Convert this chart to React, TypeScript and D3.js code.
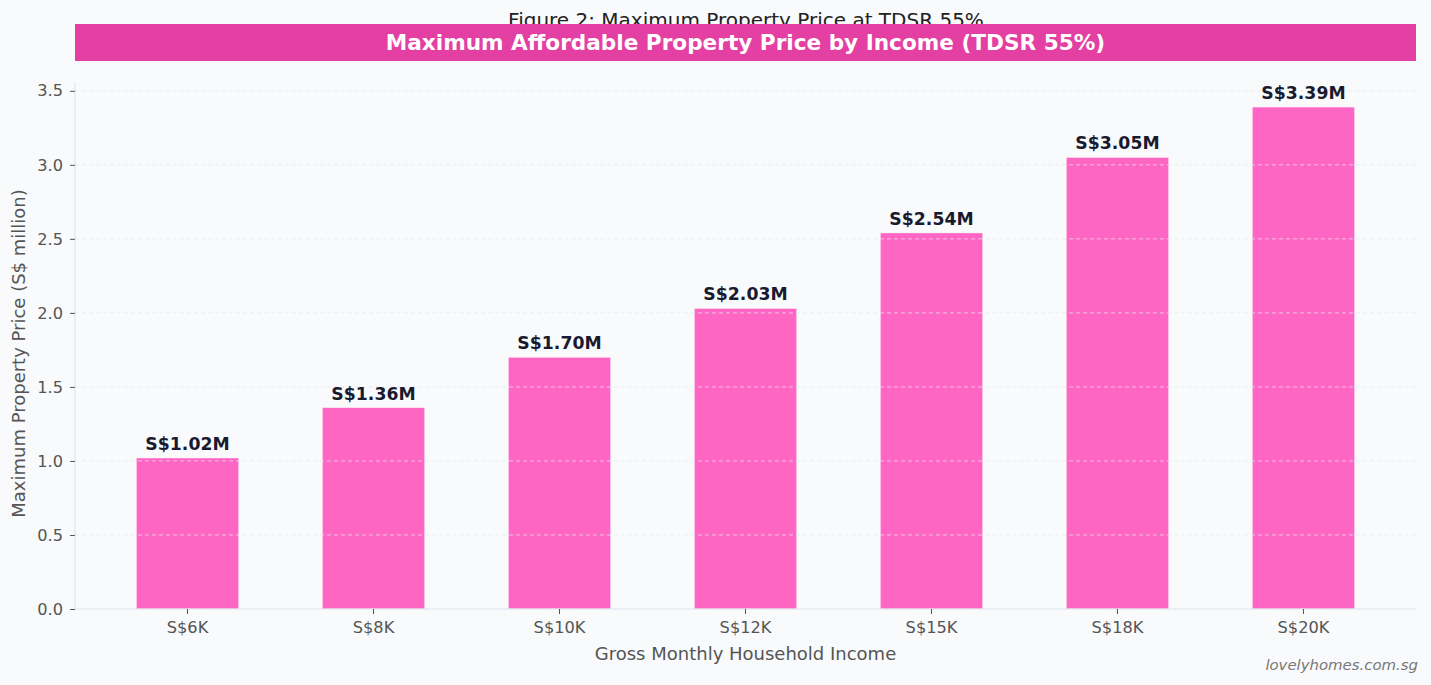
import { useEffect, useRef } from "react";
import * as d3 from "d3";

const incomes = ["S$6K", "S$8K", "S$10K", "S$12K", "S$15K", "S$18K", "S$20K"];
const maxPrice = [1.02, 1.36, 1.7, 2.03, 2.54, 3.05, 3.39];
const yTicks = [0, 0.5, 1.0, 1.5, 2.0, 2.5, 3.0, 3.5];

const WIDTH = 1431;
const HEIGHT = 685;
const FONT = "'DejaVu Sans', Verdana, sans-serif";
const TEXT_GREY = "#555555";

export default function App() {
  const svgRef = useRef<SVGSVGElement>(null);

  useEffect(() => {
    if (!svgRef.current) return;
    const svg = d3.select(svgRef.current);
    svg.selectAll("*").remove();

    const margin = { top: 82, right: 15, bottom: 76, left: 75 };
    const plotW = WIDTH - margin.left - margin.right;
    const plotH = HEIGHT - margin.top - margin.bottom;

    svg.append("rect").attr("width", WIDTH).attr("height", HEIGHT).attr("fill", "#f8fafc");

    // suptitle sits behind the banner
    svg
      .append("text")
      .attr("x", 746)
      .attr("y", 27)
      .attr("text-anchor", "middle")
      .attr("font-family", FONT)
      .attr("font-size", 20)
      .attr("fill", "#222222")
      .text("Figure 2: Maximum Property Price at TDSR 55%");

    svg
      .append("rect")
      .attr("x", margin.left)
      .attr("y", 24)
      .attr("width", plotW)
      .attr("height", 37)
      .attr("fill", "#e43fa2");

    svg
      .append("text")
      .attr("x", margin.left + plotW / 2)
      .attr("y", 50)
      .attr("text-anchor", "middle")
      .attr("font-family", FONT)
      .attr("font-weight", "bold")
      .attr("font-size", 21.6)
      .attr("fill", "#ffffff")
      .text("Maximum Affordable Property Price by Income (TDSR 55%)");

    const x = d3
      .scaleBand<string>()
      .domain(incomes)
      .range([0, plotW])
      .paddingInner(0.45)
      .paddingOuter(0.33);

    const y = d3
      .scaleLinear()
      .domain([0, d3.max(maxPrice)! * 1.05])
      .range([plotH, 0]);

    const g = svg.append("g").attr("transform", `translate(${margin.left},${margin.top})`);

    // bars
    g.selectAll("rect.bar")
      .data(maxPrice)
      .join("rect")
      .attr("class", "bar")
      .attr("x", (_, i) => x(incomes[i])!)
      .attr("width", x.bandwidth())
      .attr("y", (d) => y(d))
      .attr("height", (d) => plotH - y(d))
      .attr("fill", "#ff66c4")
      .attr("stroke", "#ffffff")
      .attr("stroke-opacity", 0.5)
      .attr("stroke-width", 0.8);

    // dashed grid over bars
    g.selectAll("line.grid")
      .data(yTicks)
      .join("line")
      .attr("class", "grid")
      .attr("x1", 0)
      .attr("x2", plotW)
      .attr("y1", (d) => y(d))
      .attr("y2", (d) => y(d))
      .attr("stroke", "#e2e8f0")
      .attr("stroke-opacity", 0.7)
      .attr("stroke-width", 1)
      .attr("stroke-dasharray", "4,3");

    // value labels
    g.selectAll("text.value")
      .data(maxPrice)
      .join("text")
      .attr("class", "value")
      .attr("x", (_, i) => x(incomes[i])! + x.bandwidth() / 2)
      .attr("y", (d) => y(d) - 8)
      .attr("text-anchor", "middle")
      .attr("font-family", FONT)
      .attr("font-weight", "bold")
      .attr("font-size", 17.3)
      .attr("fill", "#1a1a2e")
      .text((d) => `S$${d.toFixed(2)}M`);

    // spines
    g.append("line")
      .attr("x1", 0)
      .attr("x2", 0)
      .attr("y1", 0)
      .attr("y2", plotH)
      .attr("stroke", "#e2e8f0")
      .attr("stroke-width", 1.2);
    g.append("line")
      .attr("x1", 0)
      .attr("x2", plotW)
      .attr("y1", plotH)
      .attr("y2", plotH)
      .attr("stroke", "#e2e8f0")
      .attr("stroke-width", 1.2);

    const yAxis = g
      .append("g")
      .call(
        d3
          .axisLeft(y)
          .tickValues(yTicks)
          .tickFormat(d3.format(".1f"))
          .tickSize(5)
          .tickPadding(7)
      );
    yAxis.select(".domain").remove();
    yAxis.selectAll("line").attr("stroke", TEXT_GREY);
    yAxis
      .selectAll("text")
      .attr("font-family", FONT)
      .attr("font-size", 16.2)
      .attr("fill", TEXT_GREY);

    const xAxis = g
      .append("g")
      .attr("transform", `translate(0,${plotH})`)
      .call(d3.axisBottom(x).tickSize(5).tickPadding(7));
    xAxis.select(".domain").remove();
    xAxis.selectAll("line").attr("stroke", TEXT_GREY);
    xAxis
      .selectAll("text")
      .attr("font-family", FONT)
      .attr("font-size", 16.2)
      .attr("fill", TEXT_GREY);

    svg
      .append("text")
      .attr("x", margin.left + plotW / 2)
      .attr("y", 660)
      .attr("text-anchor", "middle")
      .attr("font-family", FONT)
      .attr("font-size", 18)
      .attr("fill", TEXT_GREY)
      .text("Gross Monthly Household Income");

    svg
      .append("text")
      .attr("transform", `translate(25,${margin.top + plotH / 2 + 8}) rotate(-90)`)
      .attr("text-anchor", "middle")
      .attr("font-family", FONT)
      .attr("font-size", 18)
      .attr("fill", TEXT_GREY)
      .text("Maximum Property Price (S$ million)");

    svg
      .append("text")
      .attr("x", 1418)
      .attr("y", 670)
      .attr("text-anchor", "end")
      .attr("font-family", FONT)
      .attr("font-style", "italic")
      .attr("font-size", 14.9)
      .attr("fill", "#777777")
      .text("lovelyhomes.com.sg");
  }, []);

  return (
    <svg
      ref={svgRef}
      width={WIDTH}
      height={HEIGHT}
      style={{ position: "absolute", left: 0, top: 0, display: "block" }}
    />
  );
}
